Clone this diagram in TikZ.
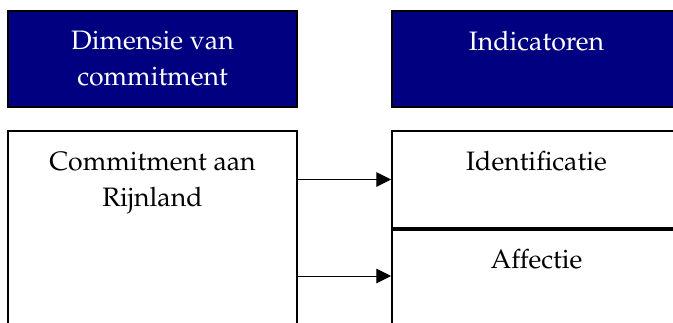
\documentclass[tikz,border=0pt]{standalone}
\usepackage[T1]{fontenc}
\usepackage{mathpazo}
\usetikzlibrary{arrows.meta,positioning}
\definecolor{donkerblauw}{RGB}{0,0,128}
\tikzset{
  kop/.style={draw=black,line width=1.5pt,fill=donkerblauw,minimum width=216.75pt,minimum height=72pt,inner sep=0pt},
  vak/.style={draw=black,line width=1.5pt,fill=white,minimum width=216.75pt,inner sep=0pt},
  tekst/.style={font=\fontsize{20}{27}\selectfont,align=center,inner sep=0pt},
  pijl/.style={line width=0.75pt,-{Triangle[length=11pt,width=11pt]}}
}

\begin{document}
\begin{tikzpicture}[x=0.75pt,y=-0.75pt]
                \useasboundingbox (0,0) rectangle (673,322);
                \clip (0,0) rectangle (673,322);
                \node[kop] (kopdim) at (152.5,59) {};
                \node[kop] (kopind) at (536.5,59) {};
                \node[vak,minimum height=144.75pt] (com) at (152.5,227.5) {};
                \node[vak,minimum height=72pt] (aff) at (536.5,276) {};
                \node[vak,minimum height=72.75pt] (ident) at (536.5,179.5) {};
                \draw[line width=3pt] (ident.south west) -- (ident.south east);
                \node[tekst,text=white,below=15.5pt of kopdim.north] (tdim) {Dimensie van\\commitment};
                \node[tekst,text=white,below=15.5pt of kopind.north] (tind) {Indicatoren};
                \node[tekst,below=16pt of com.north] (tcom) {Commitment aan\\Rijnland};
                \node[tekst,below=16pt of ident.north] (tident) {Identificatie};
                \node[tekst,below=16.5pt of aff.north] (taff) {Affectie};
                \draw[pijl] (com.east |- ident.west) -- (ident.west);
                \draw[pijl] (com.east |- aff.west) -- (aff.west);
            \end{tikzpicture}
\end{document}
